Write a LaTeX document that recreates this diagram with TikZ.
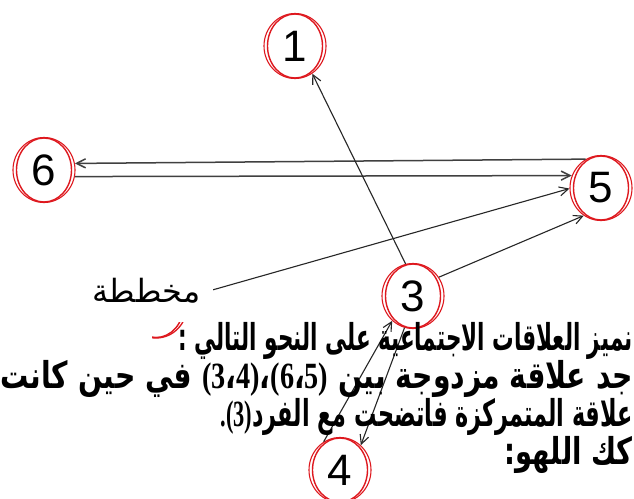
\documentclass[tikz,border=0pt]{standalone}
\usepackage{fontspec}
\usepackage{graphicx}
\setmainfont{Liberation Sans}
\newfontfamily\arb[Script=Arabic]{DejaVu Sans}
\newfontfamily\ser{Liberation Serif}
\newcommand\serb{\ser\bfseries}
\TeXXeTstate=1
\usetikzlibrary{shapes.geometric,arrows.meta}
\definecolor{nred}{RGB}{222,24,30}
\begin{document}
\begin{tikzpicture}[x=1pt,y=-1pt,
  nd/.style={ellipse, draw=nred, line width=1.1pt, fill=white, minimum width=62pt,
    minimum height=65pt, inner sep=0pt, font=\fontsize{44}{44}\selectfont},
  hid/.style={ellipse, minimum width=62pt, minimum height=64pt, inner sep=0pt},
  conn/.style={draw=black!85, line width=1.1pt, -{Straight Barb[length=9pt,width=9pt]}},
  hconn/.style={conn, line width=1.5pt, draw=black!75},
  txt/.style={anchor=base east, inner sep=0pt},
  big/.style={font=\arb\bfseries\fontsize{37}{37}\selectfont},
  lab/.style={fill=white, minimum width=133pt, minimum height=62pt, inner sep=0pt,
    font=\arb\fontsize{32}{32}\selectfont}]
\clip (0,0) rectangle (634,498);
\fill[white] (0,0) rectangle (634,498);
% nodes
\node[nd] (n1) at (295,46) {1};
\node[nd] (n6) at (44,170) {6};
\node[nd] (n5) at (601,188) {5};
\node[nd] (n3) at (413,296) {3};
\node[nd] (n4) at (340,470) {4};
\node[hid] (n2) at (156,306) {};
\foreach \n in {n1,n3,n4,n5,n6}
  \draw[nred, line width=1.4pt] (\n.center) ellipse[x radius=27.5pt, y radius=32pt];
% hidden circle, only a piece visible
\begin{scope}
  \clip (152,322) rectangle (195,345);
  \draw[nred, line width=1.3pt] (n2.center) ellipse[x radius=31pt, y radius=32pt];
  \draw[nred, line width=1.4pt] (n2.center) ellipse[x radius=27.5pt, y radius=31.5pt];
\end{scope}
% connectors
\draw[hconn] (n5.118) -- (n6.12);
\draw[hconn] (n6.-12) -- (n5.157);
\draw[conn] (n2) -- (n5.181);
\draw[conn] (n3.36) -- (n5.238);
\draw[conn] (n3.103) -- (n1.-58);
\draw[conn] (n4.120) -- (n3.230);
\draw[conn] (n3.255) -- (n4.50);
% label box
\node[lab] (lb) at (146.5,291) {\beginR مخططة\endR};
% text lines
\node[txt] (t1) at (633,350) {\resizebox{454pt}{\height}{\fontsize{37}{37}\arb\bfseries\selectfont\beginR نميز العلاقات الاجتماعية على النحو التالي :\endR}};
\node[txt] (t2) at (633,388) {\resizebox{632pt}{\height}{\fontsize{37}{37}\arb\bfseries\selectfont\beginR جد علاقة مزدوجة بين \beginL{\serb(3}،{\serb4)}،{\serb(6}،{\serb5)}\endL{} في حين كانت\endR}};
\node[txt] (t3) at (633,426) {\resizebox{412pt}{\height}{\fontsize{37}{37}\arb\bfseries\selectfont\beginR علاقة المتمركزة فاتضحت مع الفرد\beginL{\serb.(3)}\endL\endR}};
\node[txt] (t4) at (633,464) {\resizebox{128pt}{\height}{\fontsize{37}{37}\arb\bfseries\selectfont\beginR كك اللهو:\endR}};
\end{tikzpicture}
\end{document}
